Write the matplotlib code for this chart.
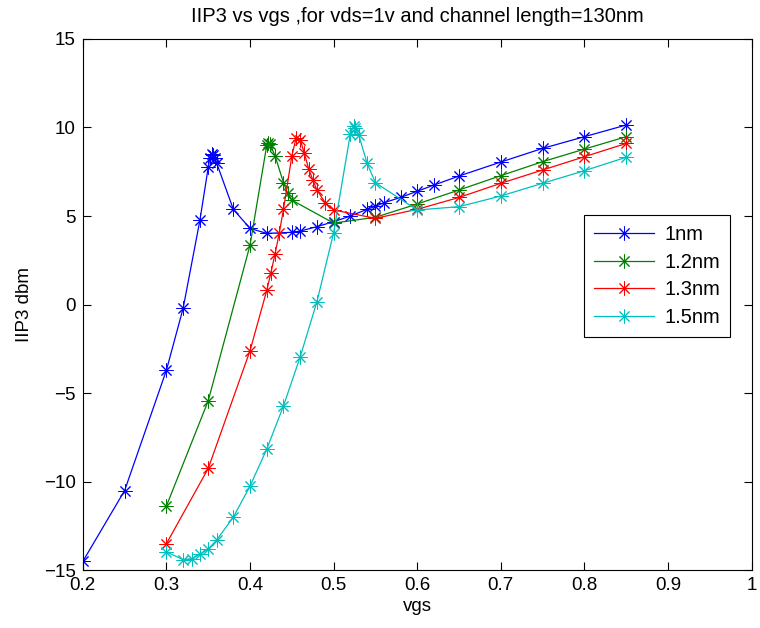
import matplotlib
matplotlib.use('Agg')
import matplotlib.pyplot as plt

plt.rcParams['font.family'] = ['Liberation Sans', 'DejaVu Sans']

labels = ['1nm', '1.2nm', '1.3nm', '1.5nm']
colors = ['#0000ff', '#008000', '#ff0000', '#00bfbf']

vgs_1 = [0.20, 0.25, 0.30, 0.32, 0.34, 0.35, 0.352, 0.354, 0.356, 0.358, 0.36, 0.38, 0.40,
         0.42, 0.45, 0.46, 0.48, 0.50, 0.52, 0.54, 0.55, 0.56, 0.58, 0.60, 0.62, 0.65,
         0.70, 0.75, 0.80, 0.85]
iip3_1 = [-14.5, -10.5, -3.7, -0.2, 4.75, 7.75, 8.3, 8.5, 8.45, 8.25, 8.0, 5.38, 4.3,
          4.02, 4.08, 4.15, 4.4, 4.68, 5.0, 5.38, 5.55, 5.75, 6.05, 6.4, 6.75, 7.26,
          8.05, 8.82, 9.48, 10.14]

vgs_2 = [0.30, 0.35, 0.40, 0.42, 0.422, 0.424, 0.43, 0.44, 0.445, 0.45, 0.50, 0.55,
         0.60, 0.65, 0.70, 0.75, 0.80, 0.85]
iip3_2 = [-11.37, -5.43, 3.36, 9.0, 9.1, 9.05, 8.39, 6.88, 6.28, 5.9, 4.6, 4.93,
          5.68, 6.47, 7.28, 8.07, 8.78, 9.48]

vgs_3 = [0.30, 0.35, 0.40, 0.42, 0.425, 0.43, 0.435, 0.44, 0.45, 0.455, 0.46, 0.465,
         0.47, 0.475, 0.48, 0.49, 0.50, 0.55, 0.60, 0.65, 0.70, 0.75, 0.80, 0.85]
iip3_3 = [-13.5, -9.25, -2.6, 0.8, 1.8, 2.88, 4.05, 5.38, 8.39, 9.39, 9.3, 8.54,
          7.68, 7.05, 6.47, 5.75, 5.34, 4.87, 5.38, 6.05, 6.85, 7.6, 8.35, 9.1]

vgs_4 = [0.30, 0.32, 0.33, 0.34, 0.35, 0.36, 0.38, 0.40, 0.42, 0.44, 0.46, 0.48, 0.50,
         0.52, 0.524, 0.526, 0.53, 0.54, 0.55, 0.60, 0.65, 0.70, 0.75, 0.80, 0.85]
iip3_4 = [-13.97, -14.4, -14.35, -14.1, -13.8, -13.3, -12.0, -10.25, -8.16, -5.72,
          -2.95, 0.16, 4.06, 9.65, 10.1, 9.95, 9.58, 7.98, 6.88, 5.34, 5.53, 6.13,
          6.85, 7.56, 8.32]

series = [(vgs_1, iip3_1), (vgs_2, iip3_2), (vgs_3, iip3_3), (vgs_4, iip3_4)]

fig = plt.figure(figsize=(7.6, 6.28), dpi=100)
ax = fig.add_axes([0.109, 0.092, 0.880, 0.846])

for (x, y), lab, c in zip(series, labels, colors):
    ax.plot(x, y, color=c, lw=0.9, marker=(8, 2, 0), markersize=10,
            markeredgewidth=0.7, label=lab)

ax.set_xlim(0.2, 1.0)
ax.set_ylim(-15, 15)
ax.set_xticks([0.2, 0.3, 0.4, 0.5, 0.6, 0.7, 0.8, 0.9, 1.0])
ax.set_xticklabels(['0.2', '0.3', '0.4', '0.5', '0.6', '0.7', '0.8', '0.9', '1'])
ax.set_yticks([-15, -10, -5, 0, 5, 10, 15])
ax.set_yticklabels(['\u221215', '\u221210', '\u22125', '0', '5', '10', '15'])
ax.tick_params(direction='in', top=True, right=True, labelsize=13.5, length=6, pad=5)
for s in ax.spines.values():
    s.set_linewidth(0.8)

ax.set_xlabel('vgs', fontsize=13.5, labelpad=3)
ax.set_ylabel('IIP3 dbm', fontsize=13.5, labelpad=8)
ax.set_title('IIP3 vs vgs ,for vds=1v and channel length=130nm', fontsize=14.5, pad=12)

leg = ax.legend(loc='upper right', bbox_to_anchor=(0.968, 0.668), borderaxespad=0,
                fontsize=14.5, fancybox=False, edgecolor='black', framealpha=1,
                handlelength=3.0, borderpad=0.5, labelspacing=0.42, handletextpad=0.5)
leg.get_frame().set_linewidth(0.8)

fig.savefig('out.png', dpi=100)
